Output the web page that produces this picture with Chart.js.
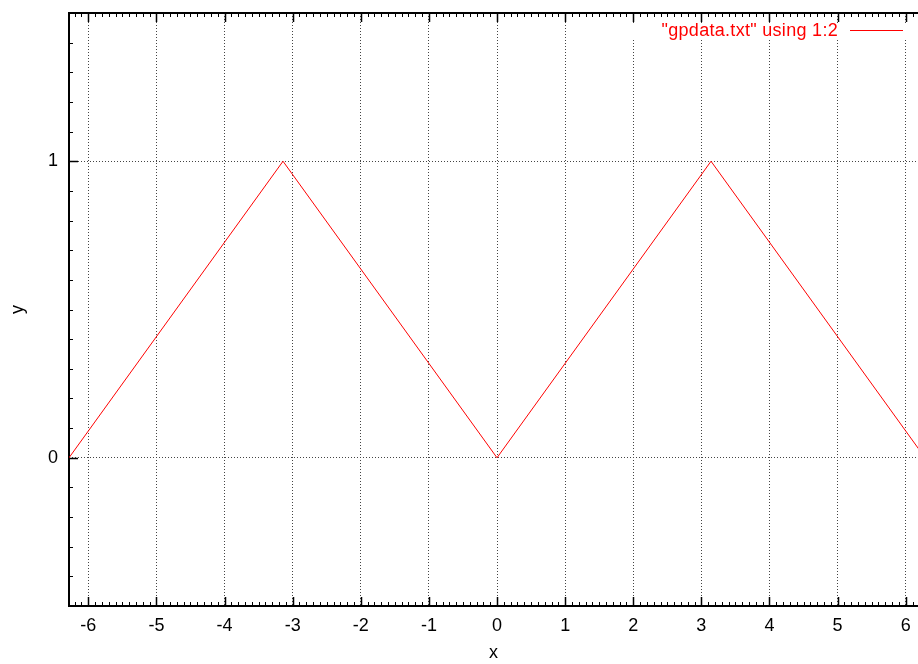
<!DOCTYPE html>
<html>
<head>
<meta charset="utf-8">
<script src="https://cdn.jsdelivr.net/npm/chart.js@4"></script>
<style>
  html, body { margin: 0; padding: 0; background: #fff; overflow: hidden; }
  canvas { display: block; }
</style>
</head>
<body>
<canvas id="c" width="918" height="664"></canvas>
<script>
// ---- data ----
const PI = Math.PI;
const xValues = [-2 * PI, -PI, 0, PI, 2 * PI];
const yValues = [0, 1, 0, 1, 0];
const seriesLabel = '"gpdata.txt" using 1:2';
const xMajorTicks = [-6, -5, -4, -3, -2, -1, 0, 1, 2, 3, 4, 5, 6];
const yMajorTicks = [0, 1];
const xRange = [-2 * PI, 6.18];
const yRange = [-0.5, 1.5];
const minorStep = 0.1;

const FONT = 'Liberation Sans, Arial, Helvetica, sans-serif';

const points = xValues.map((x, i) => ({ x: x, y: yValues[i] }));

const gnuplotFrame = {
  id: 'gnuplotFrame',
  beforeDatasetsDraw(chart) {
    const ctx = chart.ctx;
    const a = chart.chartArea;
    const xs = chart.scales.x, ys = chart.scales.y;
    ctx.save();
    // clear the key area (gnuplot key box)
    ctx.fillStyle = '#fff';
    ctx.fillRect(600, a.top + 10, a.right - 600, 40 - (a.top + 10));
    ctx.strokeStyle = '#000';
    const isMajor = v => Math.abs(v - Math.round(v)) < 1e-6;
    const startX = Math.ceil(xs.min / minorStep - 1e-9);
    const endX = Math.floor(xs.max / minorStep + 1e-9);
    for (let k = startX; k <= endX; k++) {
      const v = k * minorStep;
      const px = Math.round(xs.getPixelForValue(v)) + 0.5;
      const len = isMajor(v) ? 9 : 4;
      ctx.lineWidth = isMajor(v) ? 1.5 : 1;
      ctx.beginPath();
      ctx.moveTo(px, a.bottom); ctx.lineTo(px, a.bottom - len);
      ctx.moveTo(px, a.top); ctx.lineTo(px, a.top + len);
      ctx.stroke();
    }
    const startY = Math.ceil(ys.min / minorStep - 1e-9);
    const endY = Math.floor(ys.max / minorStep + 1e-9);
    for (let k = startY; k <= endY; k++) {
      const v = k * minorStep;
      const py = Math.round(ys.getPixelForValue(v)) + 0.5;
      const len = isMajor(v) ? 9 : 4;
      ctx.lineWidth = isMajor(v) ? 1.5 : 1;
      ctx.beginPath();
      ctx.moveTo(a.left, py); ctx.lineTo(a.left + len, py);
      ctx.stroke();
    }
    // frame
    ctx.lineWidth = 2;
    ctx.beginPath();
    ctx.moveTo(a.right + 2, a.top);
    ctx.lineTo(a.left, a.top);
    ctx.lineTo(a.left, a.bottom);
    ctx.lineTo(a.right + 2, a.bottom);
    ctx.stroke();
    ctx.restore();
  },
  afterDraw(chart) {
    const ctx = chart.ctx;
    const ds = chart.data.datasets[0];
    ctx.save();
    ctx.font = '18px ' + FONT;
    ctx.fillStyle = ds.borderColor;
    ctx.textAlign = 'right';
    ctx.textBaseline = 'middle';
    try { ctx.letterSpacing = '0.3px'; } catch (e) {}
    ctx.fillText(ds.label, 838, 31);
    ctx.strokeStyle = ds.borderColor;
    ctx.lineWidth = 1;
    ctx.beginPath();
    ctx.moveTo(850, 30.5); ctx.lineTo(903, 30.5);
    ctx.stroke();
    ctx.restore();
  }
};

const noPad = s => { s.paddingTop = 0; s.paddingBottom = 0; s.paddingLeft = 0; s.paddingRight = 0; };

new Chart(document.getElementById('c'), {
  type: 'line',
  data: {
    datasets: [{
      label: seriesLabel,
      data: points,
      borderColor: '#ff0000',
      borderWidth: 1,
      pointRadius: 0,
      tension: 0,
      fill: false
    }]
  },
  options: {
    responsive: false,
    animation: false,
    devicePixelRatio: 1,
    layout: { padding: { top: 13, left: 0, right: 0, bottom: 0 } },
    plugins: { legend: { display: false }, tooltip: { enabled: false } },
    scales: {
      x: {
        type: 'linear',
        min: xRange[0],
        max: xRange[1],
        afterBuildTicks: s => { s.ticks = xMajorTicks.map(v => ({ value: v })); },
        afterFit: s => { s.height = 58; noPad(s); },
        ticks: {
          autoSkip: false,
          maxRotation: 0,
          padding: 9,
          color: '#000',
          font: { family: FONT, size: 18 },
          callback: v => String(v)
        },
        grid: { color: '#444', lineWidth: 1, drawTicks: false },
        border: { display: false, dash: [1, 2] },
        title: {
          display: true, text: 'x', color: '#000',
          font: { family: FONT, size: 18 }, padding: 0
        }
      },
      y: {
        type: 'linear',
        min: yRange[0],
        max: yRange[1],
        afterBuildTicks: s => { s.ticks = yMajorTicks.map(v => ({ value: v })); },
        afterFit: s => { s.width = 69; noPad(s); },
        ticks: {
          padding: 11,
          color: '#000',
          font: { family: FONT, size: 18 },
          callback: v => String(v)
        },
        grid: { color: '#444', lineWidth: 1, drawTicks: false },
        border: { display: false, dash: [1, 2] },
        title: {
          display: true, text: 'y', color: '#000',
          font: { family: FONT, size: 18 }, padding: 7
        }
      }
    }
  },
  plugins: [gnuplotFrame]
});
</script>
</body>
</html>
